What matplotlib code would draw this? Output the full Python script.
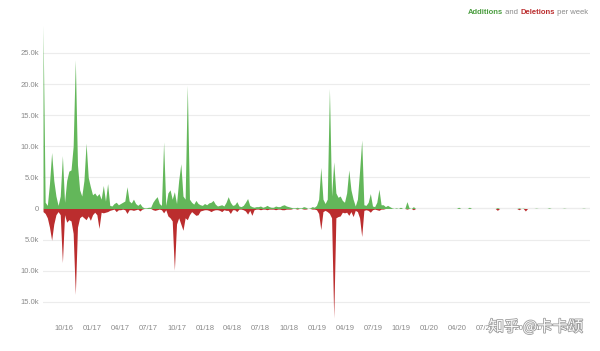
import numpy as np
import pandas as pd
import matplotlib
matplotlib.use("Agg")
import matplotlib.pyplot as plt
import matplotlib.dates as mdates
import matplotlib.patheffects as pe
from matplotlib.ticker import FuncFormatter

# ── Weekly code frequency (thousands of lines) ─────────────
start_week = "2016-07-24"

additions = [
    29.5, 1.0, 0.5, 4.0, 9.0, 4.5, 2.0, 0.5, 2.0, 8.5,
    1.0, 4.5, 6.0, 6.2, 10.0, 23.9, 7.0, 3.0, 2.0, 4.5,
    10.5, 5.0, 3.5, 2.2, 2.5, 2.0, 2.4, 1.5, 3.7, 1.2,
    4.0, 0.5, 0.4, 0.8, 1.0, 0.6, 0.8, 1.0, 1.2, 3.5,
    1.2, 0.9, 1.5, 0.8, 0.5, 0.8, 0.3, 0.1, 0.1, 0.2,
    0.2, 1.0, 1.5, 1.9, 0.8, 0.5, 10.7, 0.5, 2.5, 3.0,
    1.5, 2.7, 0.8, 4.5, 7.2, 2.0, 1.5, 19.8, 1.5, 1.0,
    0.7, 1.3, 0.8, 0.6, 0.5, 0.8, 0.6, 0.9, 1.0, 1.3,
    0.7, 0.4, 0.5, 0.6, 0.4, 1.0, 1.9, 1.0, 0.5, 0.6,
    1.1, 0.4, 0.3, 0.5, 1.0, 1.6, 0.5, 0.3, 0.2, 0.3,
    0.3, 0.4, 0.2, 0.3, 0.5, 0.3, 0.2, 0.2, 0.4, 0.3,
    0.3, 0.5, 0.6, 0.4, 0.3, 0.2, 0.1, 0.1, 0.2, 0.1,
    0.1, 0.3, 0.2, 0.0, 0.1, 0.3, 0.2, 0.5, 1.5, 6.6,
    1.5, 0.8, 1.5, 19.3, 2.0, 7.5, 2.5, 1.8, 2.0, 1.3,
    1.0, 2.5, 6.2, 3.0, 1.5, 0.4, 1.5, 6.0, 11.0, 0.6,
    0.5, 1.0, 2.4, 0.4, 0.3, 1.0, 3.1, 0.6, 0.6, 0.3,
    0.5, 0.3, 0.1, 0.0, 0.1, 0.0, 0.2, 0.0, 0.0, 1.1,
    0.1, 0.0, 0.3, 0.0, 0.0, 0.0, 0.0, 0.0, 0.0, 0.0,
    0.0, 0.0, 0.0, 0.0, 0.0, 0.0, 0.0, 0.0, 0.0, 0.0,
    0.0, 0.0, 0.0, 0.2, 0.0, 0.0, 0.0, 0.0, 0.2, 0.0,
    0.0, 0.0, 0.0, 0.0, 0.0, 0.0, 0.0, 0.0, 0.0, 0.0,
    0.0, 0.15, 0.0, 0.0, 0.0, 0.0, 0.0, 0.0, 0.0, 0.0,
    0.0, 0.1, 0.0, 0.05, 0.0, 0.0, 0.0, 0.0, 0.0, 0.05,
    0.0, 0.0, 0.0, 0.0, 0.0, 0.1, 0.0, 0.0, 0.0, 0.0,
    0.0, 0.0, 0.05, 0.0, 0.0, 0.0, 0.0, 0.0, 0.0, 0.0,
    0.0, 0.05, 0.0, 0.0, 0.0,
]

deletions = [
    -0.5, -0.8, -1.5, -3.0, -5.1, -2.5, -1.0, -0.5, -1.0, -8.7,
    -1.0, -2.2, -1.8, -2.0, -4.0, -13.8, -3.0, -1.5, -1.2, -1.5,
    -1.8, -1.2, -1.9, -1.0, -0.6, -1.0, -3.2, -0.6, -0.7, -0.6,
    -0.5, -0.3, -0.2, -0.1, -0.5, -0.2, -0.2, -0.1, -0.2, -0.8,
    -0.2, -0.2, -0.3, -0.2, -0.1, -0.4, -0.1, 0.0, 0.0, 0.0,
    0.0, -0.2, -0.3, -0.2, -0.1, -0.2, -0.7, -0.2, -1.2, -1.5,
    -2.0, -9.9, -2.5, -1.5, -2.5, -3.5, -1.5, -1.8, -1.0, -0.5,
    -0.8, -1.1, -1.0, -0.4, -0.3, -0.2, -0.2, -0.3, -0.5, -0.3,
    -0.2, -0.2, -0.3, -0.5, -0.2, -0.3, -0.3, -0.8, -0.2, -0.2,
    -0.5, -0.1, -0.1, -0.2, -0.4, -0.9, -0.3, -1.1, -0.2, -0.1,
    -0.1, -0.2, -0.1, -0.1, -0.2, -0.1, -0.1, -0.1, -0.2, -0.1,
    -0.1, -0.2, -0.2, -0.1, -0.1, -0.1, 0.0, 0.0, -0.1, 0.0,
    0.0, -0.1, -0.1, 0.0, 0.0, -0.1, -0.1, -0.2, -0.8, -3.4,
    -0.5, -0.3, -0.5, -0.8, -1.5, -17.6, -1.5, -1.3, -1.2, -0.6,
    -0.7, -0.6, -1.1, -0.5, -1.3, -0.3, -0.5, -1.5, -4.5, -0.3,
    -0.2, -0.3, -0.6, -0.2, -0.1, -0.2, -0.3, -0.1, -0.1, 0.0,
    0.0, 0.0, 0.0, 0.0, 0.0, 0.0, 0.0, 0.0, 0.0, -0.1,
    0.0, 0.0, -0.2, 0.0, 0.0, 0.0, 0.0, 0.0, 0.0, 0.0,
    0.0, 0.0, 0.0, 0.0, 0.0, 0.0, 0.0, 0.0, 0.0, 0.0,
    0.0, 0.0, 0.0, 0.0, 0.0, 0.0, 0.0, 0.0, 0.0, 0.0,
    0.0, 0.0, 0.0, 0.0, 0.0, 0.0, 0.0, 0.0, 0.0, 0.0,
    0.0, -0.3, 0.0, 0.0, 0.0, 0.0, 0.0, 0.0, 0.0, 0.0,
    0.0, -0.2, 0.0, 0.0, -0.4, 0.0, 0.0, 0.0, 0.0, 0.0,
    0.0, 0.0, 0.0, 0.0, 0.0, 0.0, 0.0, 0.0, 0.0, 0.0,
    0.0, 0.0, 0.0, 0.0, 0.0, 0.0, 0.0, 0.0, 0.0, 0.0,
    0.0, 0.0, 0.0, 0.0, 0.0,
]

y_ticks = [-15, -10, -5, 0, 5, 10, 15, 20, 25]

weeks = pd.date_range(start_week, periods=len(additions), freq="7D")
add = np.array(additions)
dele = np.array(deletions)

GREEN = "#63b75a"
RED = "#bb2d2e"
GRAY = "#8a8a8a"

plt.rcParams["font.family"] = ["Liberation Sans", "DejaVu Sans"]

fig = plt.figure(figsize=(6, 3.51), dpi=100)
ax = fig.add_axes([0.0717, 0.094, 0.9116, 0.835])

ax.fill_between(weeks, 0, add, color=GREEN, lw=0, zorder=3)
ax.fill_between(weeks, 0, dele, color=RED, lw=0, zorder=3)

ax.set_xlim(weeks[0], weeks[-1])
ax.set_ylim(dele.min(), add.max())

# ── grid & ticks ──────────────────────────────────────────
ax.set_yticks(y_ticks)
ax.yaxis.set_major_formatter(
    FuncFormatter(lambda v, _: "0" if v == 0 else f"{abs(v):.1f}k"))
ax.grid(axis="y", color="#ececec", lw=0.8, zorder=0)
ax.axhline(0, color="#d8d8d8", lw=0.8, zorder=1)

ax.xaxis.set_major_locator(mdates.MonthLocator(bymonth=[1, 4, 7, 10]))
ax.xaxis.set_major_formatter(mdates.DateFormatter("%m/%y"))

ax.tick_params(axis="both", length=0, labelsize=5.5, labelcolor=GRAY)
ax.tick_params(axis="y", pad=3)
ax.tick_params(axis="x", pad=5)
for s in ax.spines.values():
    s.set_visible(False)

# ── header: "Additions and Deletions per week" ────────────
parts = [("Additions", "#4a9d3f", "bold"), (" and ", GRAY, "normal"),
         ("Deletions", "#bb2d2e", "bold"), (" per week", GRAY, "normal")]
fig.canvas.draw()
renderer = fig.canvas.get_renderer()
x_right = 588 / 600
texts = []
for label, col, wt in parts:
    t = fig.text(0, 1 - 13 / 351, label, color=col, fontweight=wt,
                 fontsize=5.5, va="center", ha="left")
    texts.append(t)
widths = [t.get_window_extent(renderer).width / fig.bbox.width for t in texts]
x = x_right - sum(widths)
for t, w in zip(texts, widths):
    t.set_x(x)
    x += w

# ── watermark ─────────────────────────────────────────────
fig.text(0.893, 1 - 327 / 351, "知乎 @卡卡颂", fontsize=11,
         family=["Noto Sans CJK SC", "DejaVu Sans"],
         color="white", ha="center", va="center", alpha=0.95,
         path_effects=[pe.withStroke(linewidth=1.2, foreground="#9a9a9a")])

fig.savefig("out.png", dpi=100)
